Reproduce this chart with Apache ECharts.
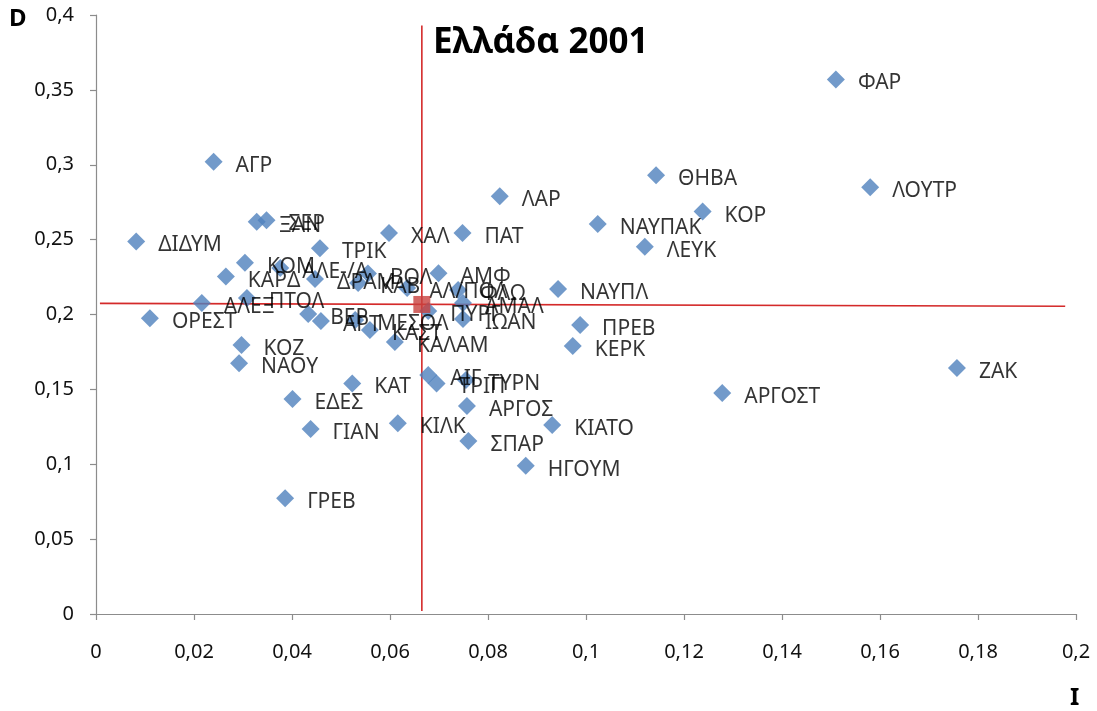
<!DOCTYPE html>
<html>
<head>
<meta charset="utf-8">
<script src="https://cdn.jsdelivr.net/npm/echarts@6/dist/echarts.min.js"></script>
<style>
  html, body { margin: 0; padding: 0; background: #fff; }
  #chart { width: 1097px; height: 711px; }
</style>
</head>
<body>
<div id="chart"></div>
<script>
'use strict';

/* ── Data: towns (I, D) ── */
const towns = [
  'ΦΑΡ', 'ΛΟΥΤΡ', 'ΘΗΒΑ', 'ΚΟΡ', 'ΝΑΥΠΑΚ', 'ΛΕΥΚ', 'ΛΑΡ', 'ΠΑΤ', 'ΧΑΛ', 'ΑΓΡ',
  'ΞΑΝ', 'ΣΕΡ', 'ΔΙΔΥΜ', 'ΤΡΙΚ', 'ΚΟΜ', 'ΑΛΕ-/Α', 'ΚΑΡΔ', 'ΔΡΑΜ', 'ΒΟΛ', 'ΚΑΒ',
  'ΑΛ/ΠΟΛ', 'ΦΛΩ', 'ΑΜΦ', 'ΑΜΑΛ', 'ΙΩΑΝ', 'ΠΥΡΓ', 'ΝΑΥΠΛ', 'ΑΛΕΞ', 'ΠΤΟΛ', 'ΟΡΕΣΤ',
  'ΒΕΡ', 'ΑΡΤ', 'ΜΕΣΟΛ', 'ΚΑΣΤ', 'ΚΑΛΑΜ', 'ΚΟΖ', 'ΝΑΟΥ', 'ΚΑΤ', 'ΕΔΕΣ', 'ΓΙΑΝ',
  'ΓΡΕΒ', 'ΚΙΛΚ', 'ΑΙΓ', 'ΤΡΙΠ', 'ΤΥΡΝ', 'ΑΡΓΟΣ', 'ΣΠΑΡ', 'ΗΓΟΥΜ', 'ΚΙΑΤΟ', 'ΠΡΕΒ',
  'ΚΕΡΚ', 'ΑΡΓΟΣΤ', 'ΖΑΚ'
];
const valuesI = [
  0.151, 0.158, 0.1143, 0.1238, 0.1024, 0.112, 0.0824, 0.0748, 0.0598, 0.024,
  0.0328, 0.0348, 0.0082, 0.0457, 0.0304, 0.0376, 0.0265, 0.0447, 0.0555, 0.0535,
  0.0635, 0.0739, 0.0699, 0.0749, 0.0749, 0.0678, 0.0943, 0.0216, 0.0308, 0.011,
  0.0433, 0.0459, 0.0529, 0.0559, 0.061, 0.0297, 0.0292, 0.0523, 0.0401, 0.0438,
  0.0386, 0.0616, 0.0678, 0.0695, 0.0755, 0.0757, 0.076, 0.0877, 0.0931, 0.0988,
  0.0973, 0.1278, 0.1757
];
const valuesD = [
  0.357, 0.285, 0.293, 0.2687, 0.2605, 0.2453, 0.279, 0.2545, 0.2545, 0.302,
  0.262, 0.263, 0.2488, 0.2442, 0.2346, 0.231, 0.2253, 0.2237, 0.2273, 0.221,
  0.2177, 0.2164, 0.2275, 0.2077, 0.197, 0.2023, 0.217, 0.2077, 0.211, 0.1975,
  0.2003, 0.1957, 0.1963, 0.1897, 0.1816, 0.1796, 0.1674, 0.154, 0.1436, 0.1235,
  0.0773, 0.1273, 0.1596, 0.154, 0.1563, 0.1389, 0.1155, 0.099, 0.1262, 0.193,
  0.179, 0.1476, 0.1643
];

/* mean point and the two cross lines through it */
const meanPoint = [0.0665, 0.2067];
const vLine = [[0.0665, 0.002], [0.0665, 0.393]];
const hLine = [[0.0008, 0.2074], [0.1978, 0.2055]];

/* axis ticks */
const xTicks = { min: 0, max: 0.2, interval: 0.02 };
const yTicks = { min: 0, max: 0.4, interval: 0.05 };

const FONT = "'Noto Sans', 'DejaVu Sans', sans-serif";
const comma = v => String(+v.toFixed(3)).replace('.', ',');

const chart = echarts.init(document.getElementById('chart'), null, { renderer: 'canvas' });

const axisCommon = {
  type: 'value',
  splitLine: { show: false },
  axisLine: { show: true, onZero: false, lineStyle: { color: '#8c8c8c', width: 1.2 } },
  axisTick: { show: true, length: 6, lineStyle: { color: '#8c8c8c', width: 1.2 } }
};

chart.setOption({
  backgroundColor: '#fff',
  animation: false,
  textStyle: { fontFamily: FONT },
  grid: { left: 96, right: 21, top: 15, bottom: 97 },
  title: {
    text: 'Ελλάδα 2001',
    left: 428, top: 21,
    textStyle: { fontFamily: FONT, fontSize: 35, fontWeight: 'bold', color: '#000' }
  },
  graphic: [
    { type: 'text', left: 9, top: 7,
      style: { text: 'D', font: 'bold 24px ' + FONT, fill: '#000' } },
    { type: 'text', left: 1070, top: 686,
      style: { text: 'I', font: 'bold 24px ' + FONT, fill: '#000' } }
  ],
  xAxis: {
    ...axisCommon,
    min: xTicks.min, max: xTicks.max, interval: xTicks.interval,
    axisLabel: { color: '#111', fontSize: 20, margin: 28, formatter: comma, fontFamily: FONT }
  },
  yAxis: {
    ...axisCommon,
    min: yTicks.min, max: yTicks.max, interval: yTicks.interval,
    axisLabel: { color: '#111', fontSize: 20, margin: 22, formatter: comma, fontFamily: FONT }
  },
  series: [
    {
      name: 'vline', type: 'line', data: vLine, symbol: 'none', silent: true, z: 1,
      lineStyle: { color: '#d42a2a', width: 1.6 }
    },
    {
      name: 'hline', type: 'line', data: hLine, symbol: 'none', silent: true, z: 1,
      lineStyle: { color: '#d42a2a', width: 1.6 }
    },
    {
      name: 'towns', type: 'scatter', z: 3,
      symbol: 'diamond', symbolSize: 18,
      itemStyle: { color: '#4f81bd' },
      data: towns.map((n, i) => ({ name: n, value: [valuesI[i], valuesD[i]] })),
      label: {
        show: true, position: [31, 13], align: 'left', verticalAlign: 'middle',
        formatter: p => p.name,
        color: '#000', fontSize: 21, fontFamily: FONT
      },
      labelLayout: { hideOverlap: false }
    },
    {
      name: 'mean', type: 'scatter', z: 4,
      symbol: 'rect', symbolSize: 17,
      itemStyle: { color: '#c8413f' },
      data: [meanPoint]
    }
  ]
});
</script>
</body>
</html>
